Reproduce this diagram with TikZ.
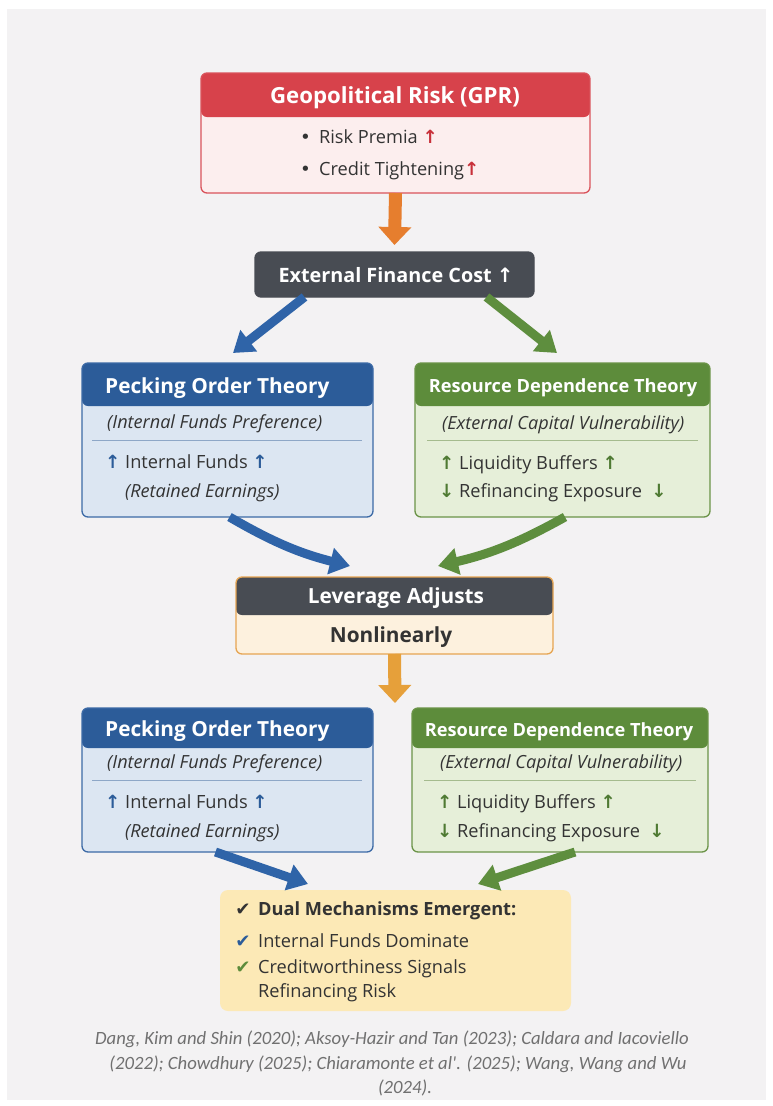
\documentclass[tikz,border=0pt]{standalone}
\usepackage{fontspec}
\setmainfont{Open Sans}
\newfontfamily\symfont{DejaVu Sans}
\newfontfamily\capfont{Carlito}
\usetikzlibrary{arrows.meta}

\definecolor{pagebg}{HTML}{F3F2F3}
\definecolor{txtcol}{HTML}{333333}
\definecolor{redhd}{HTML}{D7424B}
\definecolor{redbd}{HTML}{D9535B}
\definecolor{redbg}{HTML}{FCEEEE}
\definecolor{redup}{HTML}{C8303A}
\definecolor{darkhd}{HTML}{484C53}
\definecolor{bluehd}{HTML}{2C5C99}
\definecolor{bluebd}{HTML}{3C6AA6}
\definecolor{bluebg}{HTML}{DCE6F2}
\definecolor{blueln}{HTML}{8EA7C7}
\definecolor{greenhd}{HTML}{5D8C3B}
\definecolor{greenbd}{HTML}{6B9448}
\definecolor{greenbg}{HTML}{E6EFD9}
\definecolor{greenln}{HTML}{A5BB8E}
\definecolor{greenup}{HTML}{4F7A33}
\definecolor{creambg}{HTML}{FDF1DE}
\definecolor{orangebd}{HTML}{E6A552}
\definecolor{yellowbg}{HTML}{FCE9B6}
\definecolor{orangeA}{HTML}{E67E2E}
\definecolor{orangeB}{HTML}{E6A03A}
\definecolor{bluearr}{HTML}{2F64A8}
\definecolor{greenarr}{HTML}{5E8E3E}
\definecolor{capcol}{HTML}{707070}

\newcommand\uparr[1]{{\symfont\bfseries\color{#1}↑}}
\newcommand\dnarr[1]{{\symfont\bfseries\color{#1}↓}}
\newcommand\tick[1]{{\symfont\color{#1}✔}}
\newcommand\dotmark{{\symfont•}\hspace{0.45em}}

\tikzset{
  card/.style={draw, rounded corners=6pt, line width=1.3pt, inner sep=0pt, outer sep=0pt},
  headbar/.style 2 args={path picture={\fill[#1] (path picture bounding box.north west)
      rectangle ([yshift=-#2]path picture bounding box.north east);}},
  head/.style={inner sep=0pt, anchor=base, text=white, font=\fontsize{20.8}{24}\selectfont\bfseries},
  txt/.style={inner sep=0pt, anchor=base west, text=txtcol, font=\fontsize{18.2}{21}\selectfont},
  subtxt/.style={txt, font=\fontsize{18.1}{21}\selectfont\itshape},
  cite/.style={inner sep=0pt, anchor=base, text=capcol, font=\capfont\itshape\fontsize{18.7}{21}\selectfont},
  fatarrow/.style={line width=13pt, -{Triangle[length=18pt,width=32pt]}},
  slimarrow/.style={line width=9pt, -{Triangle[length=20pt,width=26pt]}}
}

\begin{document}
\begin{tikzpicture}[x=1pt,y=-1pt]
  \useasboundingbox (0,0) rectangle (773,1106);
  \fill[white] (0,0) rectangle (773,1106);
  \fill[pagebg] (7,9) rectangle (766,1100);

  % geopolitical risk
  \node[card, draw=redbd, fill=redbg, headbar={redhd}{44pt},
    minimum width=389pt, minimum height=120pt] (gpr) at (395.5,133) {};
  \node[head, font=\fontsize{22.2}{25}\selectfont\bfseries] (gprhead) at (395,103) {Geopolitical Risk (GPR)};
  \node[txt] (premia) at (300,143) {\dotmark Risk Premia \uparr{redup}};
  \node[txt] (credit) at (300,175) {\dotmark Credit Tightening\uparr{redup}};

  % external finance cost
  \node[card, draw=darkhd, fill=darkhd, minimum width=279pt, minimum height=45pt] (efc) at (394.5,274.5) {};
  \node[head, font=\fontsize{19.8}{23}\selectfont\bfseries] (efchead) at (396,282) {External Finance Cost \uparr{white}};

  % first pair of theories
  \node[card, draw=bluebd, fill=bluebg, headbar={bluehd}{43pt},
    minimum width=291pt, minimum height=154pt] (pot1) at (227.5,440) {};
  \node[head, anchor=base west] (pot1head) at (105,393) {Pecking Order Theory};
  \node[subtxt] (pot1sub) at (107,428) {(Internal Funds Preference)};
  \draw[blueln, line width=1pt] (92,440) -- (362,440);
  \node[txt] (pot1a) at (105,468) {\uparr{bluehd} Internal Funds \uparr{bluehd}};
  \node[subtxt] (pot1b) at (125,497) {(Retained Earnings)};

  \node[card, draw=greenbd, fill=greenbg, headbar={greenhd}{43pt},
    minimum width=295pt, minimum height=154pt] (rdt1) at (562.5,440) {};
  \node[head, font=\fontsize{18.2}{21}\selectfont\bfseries] (rdt1head) at (563,392) {Resource Dependence Theory};
  \node[subtxt] (rdt1sub) at (442,429) {(External Capital Vulnerability)};
  \draw[greenln, line width=1pt] (427,440) -- (698,440);
  \node[txt] (rdt1a) at (439,469) {\uparr{greenup} Liquidity Buffers \uparr{greenup}};
  \node[txt] (rdt1b) at (439,497) {\dnarr{greenup} Refinancing Exposure \ \dnarr{greenup}};

  % leverage
  \node[card, draw=orangebd, fill=creambg, headbar={darkhd}{38pt},
    minimum width=317pt, minimum height=77pt] (lev) at (394.5,615.5) {};
  \node[head] (levhead) at (396,603) {Leverage Adjusts};
  \node[head, text=txtcol] (levsub) at (391,642) {Nonlinearly};
  \coordinate (levout) at (395,703);

  % second pair of theories
  \node[card, draw=bluebd, fill=bluebg, headbar={bluehd}{40pt},
    minimum width=291pt, minimum height=144pt] (pot2) at (227.5,780) {};
  \node[head, anchor=base west] (pot2head) at (105,736) {Pecking Order Theory};
  \node[subtxt] (pot2sub) at (107,768) {(Internal Funds Preference)};
  \draw[blueln, line width=1pt] (92,780) -- (362,780);
  \node[txt] (pot2a) at (105,808) {\uparr{bluehd} Internal Funds \uparr{bluehd}};
  \node[subtxt] (pot2b) at (125,837) {(Retained Earnings)};

  \node[card, draw=greenbd, fill=greenbg, headbar={greenhd}{40pt},
    minimum width=296pt, minimum height=144pt] (rdt2) at (560,780) {};
  \node[head, font=\fontsize{18.2}{21}\selectfont\bfseries] (rdt2head) at (559,736) {Resource Dependence Theory};
  \node[subtxt] (rdt2sub) at (440,768) {(External Capital Vulnerability)};
  \draw[greenln, line width=1pt] (424,780) -- (696,780);
  \node[txt] (rdt2a) at (437,808) {\uparr{greenup} Liquidity Buffers \uparr{greenup}};
  \node[txt] (rdt2b) at (437,837) {\dnarr{greenup} Refinancing Exposure \ \dnarr{greenup}};

  % outcome
  \node[fill=yellowbg, rounded corners=8pt, inner sep=0pt, outer sep=0pt,
    minimum width=351pt, minimum height=121pt] (dual) at (395.5,950.5) {};
  \node[txt, anchor=base] (dualtick) at (243,915) {\tick{txtcol}};
  \node[txt, font=\fontsize{18.2}{21}\selectfont\bfseries] (dualhead) at (258,915) {Dual Mechanisms Emergent:};
  \node[txt, anchor=base] (dualtick1) at (243,947) {\tick{bluehd}};
  \node[txt] (dual1) at (258,947) {Internal Funds Dominate};
  \node[txt, anchor=base] (dualtick2) at (243,973) {\tick{greenhd}};
  \node[txt] (dual2) at (258,973) {Creditworthiness Signals};
  \node[txt] (dual3) at (258,997) {Refinancing Risk};

  % sources
  \node[cite] (cite1) at (392,1044) {Dang, Kim and Shin (2020); Aksoy-Hazir and Tan (2023); Caldara and Iacoviello};
  \node[cite] (cite2) at (398,1069) {(2022); Chowdhury (2025); Chiaramonte et al'. (2025); Wang, Wang and Wu};
  \node[cite] (cite3) at (405,1093) {(2024).};

  % connectors
  \draw[fatarrow, orangeA] (gpr.south) -- ([yshift=7pt]efc.north);
  \draw[slimarrow, bluearr] ([xshift=-90pt]efc.south) -- ([xshift=5.5pt,yshift=10pt]pot1.north);
  \draw[slimarrow, greenarr] ([xshift=92pt]efc.south) -- ([xshift=-5.5pt,yshift=10pt]rdt1.north);
  \draw[slimarrow, bluearr] ([xshift=2pt]pot1.south) to[bend right=8] ([xshift=-44.5pt,yshift=11pt]lev.north);
  \draw[slimarrow, greenarr] ([xshift=2.5pt]rdt1.south) to[bend left=8] ([xshift=43.5pt,yshift=11pt]lev.north);
  \draw[fatarrow, orangeB] (lev.south) -- (levout);
  \draw[slimarrow, bluearr] ([xshift=-12pt]pot2.south) -- ([xshift=-87.5pt,yshift=6pt]dual.north);
  \draw[slimarrow, greenarr] ([xshift=15pt]rdt2.south) -- ([xshift=82.5pt,yshift=6pt]dual.north);
\end{tikzpicture}
\end{document}
